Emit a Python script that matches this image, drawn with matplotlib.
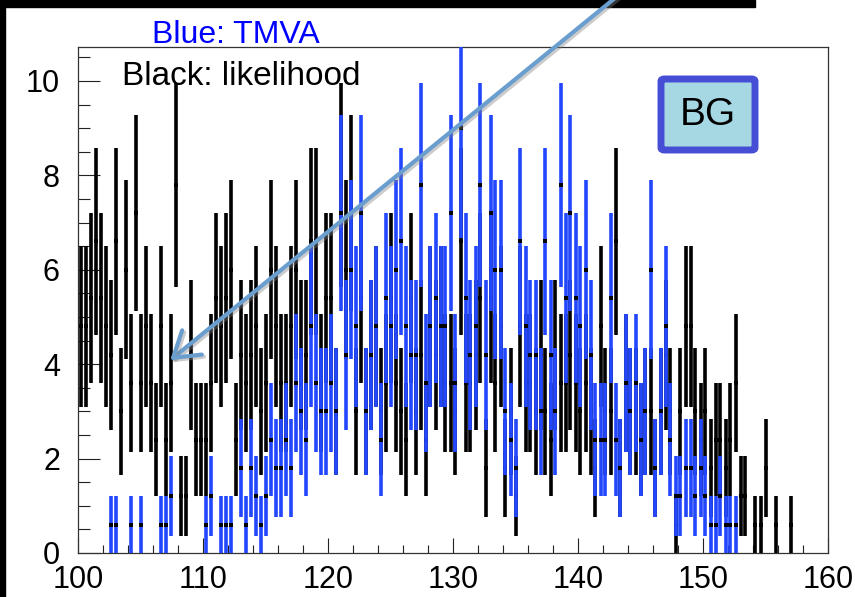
import numpy as np
import matplotlib.pyplot as plt
import matplotlib.patheffects as pe
from matplotlib.patches import FancyArrowPatch, FancyBboxPatch, Rectangle
from matplotlib.ticker import MultipleLocator

plt.rcParams['font.family'] = ['Liberation Sans', 'DejaVu Sans']

W, H = 855, 597

# histogram binning (150 bins of 0.4 between 100 and 160), each entry weighted 0.6
bin_lo, bin_hi, nbins = 100.0, 160.0, 150
weight = 0.6

# entries per bin
likelihood_counts = [
    8, 8, 9, 11, 9, 8, 7, 11, 5, 10,
    6, 12, 6, 8, 6, 4, 8, 4, 6, 13,
    2, 2, 7, 4, 4, 4, 6, 9, 8, 9,
    10, 4, 7, 6, 7, 8, 5, 6, 10, 8,
    6, 6, 8, 10, 7, 7, 11, 11, 6, 9,
    9, 5, 13, 10, 12, 5, 9, 5, 7, 8,
    5, 6, 9, 6, 5, 4, 9, 5, 7, 4,
    8, 7, 8, 6, 6, 5, 11, 6, 6, 7,
    9, 3, 9, 6, 8, 3, 5, 2, 8, 6,
    6, 5, 7, 5, 4, 7, 6, 6, 7, 6,
    5, 6, 5, 3, 8, 5, 5, 11, 3, 6,
    5, 5, 4, 5, 5, 3, 5, 7, 5, 1,
    5, 8, 8, 5, 4, 5, 3, 4, 4, 3,
    4, 6, 2, 2, 0, 1, 1, 3, 0, 1,
    0, 0, 1, 0, 0, 0, 0, 0, 0, 0,
]
tmva_counts = [
    0, 0, 0, 0, 0, 0, 1, 1, 0, 0,
    1, 0, 1, 0, 0, 0, 1, 1, 2, 0,
    0, 0, 0, 0, 0, 1, 2, 0, 1, 1,
    1, 0, 3, 1, 3, 2, 1, 2, 4, 3,
    3, 4, 3, 6, 5, 4, 8, 6, 5, 5,
    6, 5, 12, 7, 10, 8, 12, 5, 7, 8,
    4, 9, 8, 10, 11, 8, 7, 7, 13, 6,
    8, 9, 8, 8, 12, 6, 15, 9, 7, 8,
    13, 7, 12, 10, 10, 5, 4, 3, 11, 8,
    7, 7, 5, 11, 7, 5, 13, 9, 12, 9,
    8, 10, 7, 4, 4, 4, 9, 4, 3, 6,
    5, 6, 4, 5, 10, 3, 5, 8, 4, 2,
    2, 3, 3, 2, 3, 2, 1, 1, 2, 1,
    1, 1, 0, 0, 0, 0, 0, 0, 0, 0,
    0, 0, 0, 0, 0, 0, 0, 0, 0, 0,
]

edges = np.linspace(bin_lo, bin_hi, nbins + 1)
centers = 0.5 * (edges[:-1] + edges[1:])


def draw_hist(ax, counts, color, z):
    n = np.asarray(counts, dtype=float)
    keep = n > 0
    y = n[keep] * weight
    err = np.sqrt(n[keep]) * weight
    ax.errorbar(centers[keep], y, yerr=err, fmt='none', ecolor=color,
                elinewidth=2.6, capsize=0, zorder=z)
    ax.plot(centers[keep], y, 's', color='black', ms=3, mew=0, zorder=z + 0.1)


fig = plt.figure(figsize=(W / 100, H / 100), dpi=100)
ax = fig.add_axes([78 / W, 1 - 553 / H, 750 / W, 506 / H])

draw_hist(ax, likelihood_counts, 'black', 2)
draw_hist(ax, tmva_counts, '#2347ff', 3)

ax.set_xlim(bin_lo, bin_hi)
ax.set_ylim(0, 10.72)
ax.xaxis.set_major_locator(MultipleLocator(10))
ax.xaxis.set_minor_locator(MultipleLocator(2))
ax.yaxis.set_major_locator(MultipleLocator(2))
ax.yaxis.set_minor_locator(MultipleLocator(0.5))
ax.tick_params(which='both', direction='in', top=False, right=False,
               width=0.8, color='#222222')
ax.tick_params(axis='y', which='major', length=16, pad=13, labelsize=22)
ax.tick_params(axis='y', which='minor', length=8.5)
ax.tick_params(axis='x', which='major', length=11, pad=9, labelsize=22)
ax.tick_params(axis='x', which='minor', length=6)
for s in ax.spines.values():
    s.set_linewidth(0.9)
    s.set_color('#333333')

# slide decorations
fig.add_artist(Rectangle((0, 1 - 7 / H), 755 / W, 7 / H, transform=fig.transFigure,
                         color='black', zorder=5))
fig.add_artist(Rectangle((0, 0), 5 / W, 1, transform=fig.transFigure,
                         color='black', zorder=5))

fig.text(152 / W, 1 - 43 / H, 'Blue: TMVA', color='#0000ff', fontsize=23,
         ha='left', va='baseline')
fig.text(122 / W, 1 - 85 / H, 'Black: likelihood', color='black', fontsize=24,
         ha='left', va='baseline', zorder=6)

box = FancyBboxPatch((661 / W, 1 - 150 / H), 94 / W, 71 / H,
                     boxstyle='round,pad=0,rounding_size=0.004',
                     transform=fig.transFigure, facecolor='#a6d8e4',
                     edgecolor='#474ed6', linewidth=5, zorder=6)
fig.add_artist(box)
fig.text(708 / W, 1 - 115 / H, 'BG', fontsize=28, ha='center', va='center', zorder=7)

arrow = FancyArrowPatch((620 / W, 1 + 6 / H), (168 / W, 1 - 362 / H),
                        transform=fig.transFigure,
                        arrowstyle='->,head_length=0.7,head_width=0.45',
                        mutation_scale=25, lw=3, color='#6a9ecf', zorder=8,
                        path_effects=[pe.SimpleLineShadow(offset=(1.5, -1.5),
                                                          shadow_color='gray', alpha=0.4),
                                      pe.Normal()])
fig.add_artist(arrow)

fig.savefig('out.png', dpi=100)
